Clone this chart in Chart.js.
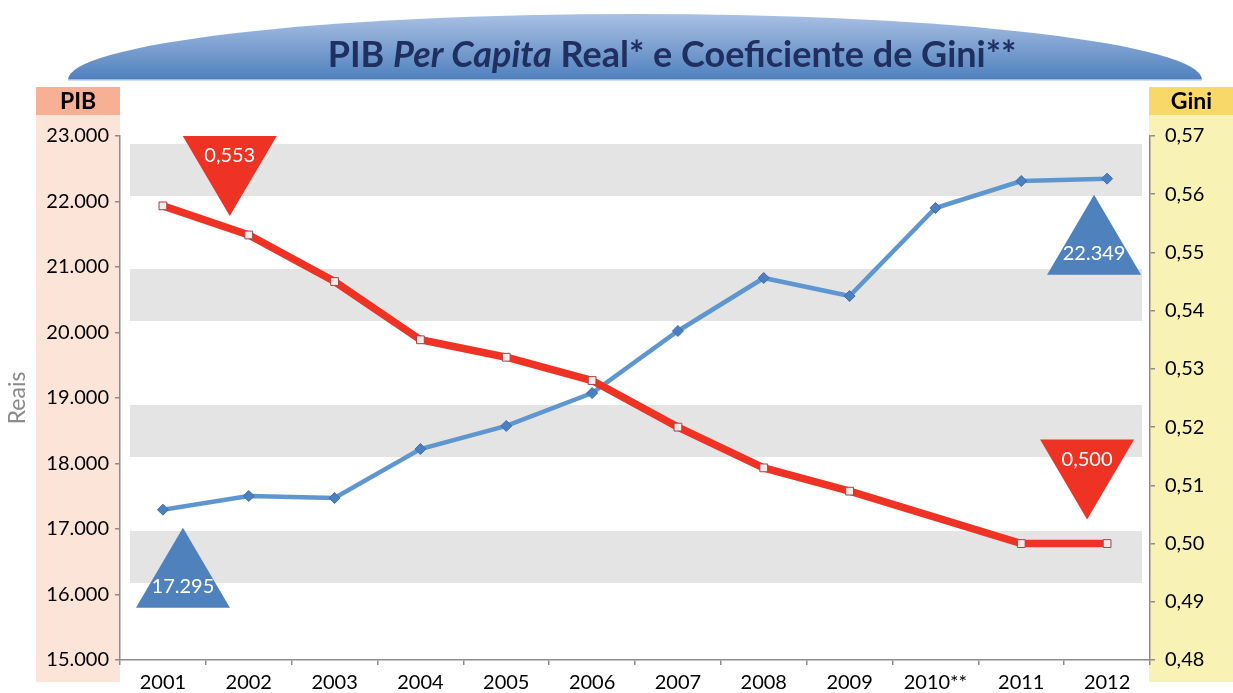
<!DOCTYPE html>
<html>
<head>
<meta charset="utf-8">
<script src="https://cdn.jsdelivr.net/npm/chart.js@4/dist/chart.umd.min.js"></script>
<style>
  html, body { margin: 0; padding: 0; background: #fff; }
  #wrap { width: 1233px; height: 693px; position: relative; }
</style>
</head>
<body>
<div id="wrap"><canvas id="grafico"></canvas></div>
<script>
const anos = ['2001', '2002', '2003', '2004', '2005', '2006', '2007', '2008', '2009', '2010**', '2011', '2012'];
const pib = [17295, 17504, 17473, 18221, 18573, 19076, 20023, 20832, 20557, 21901, 22313, 22349];
const gini = [0.558, 0.553, 0.545, 0.535, 0.532, 0.528, 0.520, 0.513, 0.509, null, 0.500, 0.500];
const pibTicks = ['15.000', '16.000', '17.000', '18.000', '19.000', '20.000', '21.000', '22.000', '23.000'];
const giniTicks = ['0,48', '0,49', '0,50', '0,51', '0,52', '0,53', '0,54', '0,55', '0,56', '0,57'];

const FONTE = 'Lato, "Open Sans", sans-serif';

// fundo: colunas dos eixos, faixas cinza e titulo
const fundo = {
    id: 'fundo',
    beforeDraw(chart) {
        const ctx = chart.ctx;
        const a = chart.chartArea;
        const y = chart.scales.y;
        ctx.save();
        // coluna PIB
        ctx.fillStyle = '#fce5d8';
        ctx.fillRect(36, 115, a.left - 36, 682 - 115);
        ctx.fillStyle = '#f8b094';
        ctx.fillRect(36, 87, a.left - 36, 28);
        // coluna Gini
        ctx.fillStyle = '#f8f2b5';
        ctx.fillRect(a.right - 1, 115, chart.width - a.right + 1, 682 - 115);
        ctx.fillStyle = '#f9d86a';
        ctx.fillRect(a.right - 1, 87, chart.width - a.right + 1, 28);

        ctx.fillStyle = '#000';
        ctx.font = 'bold 23px ' + FONTE;
        ctx.textAlign = 'center';
        ctx.textBaseline = 'middle';
        ctx.fillText('PIB', (36 + a.left) / 2, 102);
        ctx.fillText('Gini', (a.right + chart.width) / 2, 102);

        // faixas cinza
        ctx.fillStyle = '#e4e4e4';
        [[22084, 22878], [20176, 20969], [18099, 18893], [16176, 16969]].forEach(f => {
            const y1 = y.getPixelForValue(f[1]);
            const y0 = y.getPixelForValue(f[0]);
            ctx.fillRect(a.left + 10, y1, a.right - a.left - 18, y0 - y1);
        });

        // titulo
        const cx = 635, by = 80;
        const g = ctx.createLinearGradient(0, 14, 0, by);
        g.addColorStop(0, '#a9c0e4');
        g.addColorStop(1, '#4f80bd');
        ctx.fillStyle = g;
        ctx.beginPath();
        ctx.ellipse(cx, by, 567, 66, 0, Math.PI, 2 * Math.PI);
        ctx.closePath();
        ctx.fill();
        ctx.strokeStyle = '#bcd0ec';
        ctx.lineWidth = 1.5;
        ctx.beginPath();
        ctx.moveTo(cx - 567, by);
        ctx.lineTo(cx + 567, by);
        ctx.stroke();

        const partes = [['PIB ', 'bold'], ['Per Capita', 'bold italic'], [' Real* e Coeficiente de Gini**', 'bold']];
        ctx.textAlign = 'left';
        ctx.textBaseline = 'alphabetic';
        let total = 0;
        partes.forEach(p => { ctx.font = p[1] + ' 36px ' + FONTE; total += ctx.measureText(p[0]).width; });
        let x = 672 - total / 2;
        ctx.fillStyle = '#1f3060';
        partes.forEach(p => {
            ctx.font = p[1] + ' 36px ' + FONTE;
            ctx.fillText(p[0], x, 67);
            x += ctx.measureText(p[0]).width;
        });

        // rotulo Reais
        ctx.translate(18, 398);
        ctx.rotate(-Math.PI / 2);
        ctx.textAlign = 'center';
        ctx.textBaseline = 'middle';
        ctx.fillStyle = '#8a8a8a';
        ctx.font = '23px ' + FONTE;
        ctx.fillText('Reais', 0, 0);
        ctx.restore();
    }
};

// triangulos com valores
const destaques = {
    id: 'destaques',
    afterDatasetsDraw(chart) {
        const ctx = chart.ctx;
        const itens = [
            { ds: 0, i: 1, cor: '#ee3224', baixo: true, dx: -19, dy: -19, txt: '0,553' },
            { ds: 0, i: 11, cor: '#ee3224', baixo: true, dx: -20, dy: -24, txt: '0,500' },
            { ds: 1, i: 0, cor: '#4f81bd', baixo: false, dx: 20, dy: 18, txt: '17.295' },
            { ds: 1, i: 11, cor: '#4f81bd', baixo: false, dx: -13, dy: 16, txt: '22.349' }
        ];
        ctx.save();
        itens.forEach(t => {
            const p = chart.getDatasetMeta(t.ds).data[t.i];
            const ax = p.x + t.dx, ay = p.y + t.dy;
            const h = t.baixo ? -80 : 80;
            ctx.fillStyle = t.cor;
            ctx.beginPath();
            ctx.moveTo(ax, ay);
            ctx.lineTo(ax - 47, ay + h);
            ctx.lineTo(ax + 47, ay + h);
            ctx.closePath();
            ctx.fill();
            ctx.fillStyle = '#fff';
            ctx.font = '20px ' + FONTE;
            ctx.textAlign = 'center';
            ctx.textBaseline = 'middle';
            ctx.fillText(t.txt, ax, t.baixo ? ay + h + 20 : ay + h - 21);
        });
        ctx.restore();
    }
};

const ctx = document.getElementById('grafico');

new Chart(ctx, {
    type: 'line',
    data: {
        labels: anos,
        datasets: [{
            label: 'Gini',
            data: gini,
            yAxisID: 'y1',
            borderColor: '#ee3224',
            borderWidth: 7.5,
            tension: 0,
            spanGaps: true,
            pointStyle: 'rect',
            pointRadius: 5.5,
            pointBackgroundColor: '#fbe9e9',
            pointBorderColor: '#a04545',
            pointBorderWidth: 1,
            order: 0
        }, {
            label: 'PIB',
            data: pib,
            yAxisID: 'y',
            borderColor: '#5e97cf',
            borderWidth: 4.5,
            tension: 0,
            pointStyle: 'rectRot',
            pointRadius: 5.5,
            pointBackgroundColor: '#4a7fc0',
            pointBorderColor: '#3f6fae',
            pointBorderWidth: 1,
            order: 1
        }]
    },
    options: {
        responsive: true,
        maintainAspectRatio: false,
        animation: false,
        layout: { padding: { top: 136, left: 0, right: 0, bottom: 0 } },
        plugins: {
            legend: { display: false },
            tooltip: { enabled: false }
        },
        scales: {
            x: {
                offset: true,
                grid: { offset: true, drawOnChartArea: false, drawTicks: true, tickLength: 5, color: '#8c8c8c', lineWidth: 1.5 },
                border: { color: '#8c8c8c', width: 1.5 },
                ticks: { color: '#000', font: { family: FONTE, size: 20 }, padding: 6, maxRotation: 0, autoSkip: false },
                afterFit(s) { s.height = 33; }
            },
            y: {
                position: 'left',
                min: 15000,
                max: 23000,
                ticks: {
                    stepSize: 1000,
                    color: '#000',
                    font: { family: FONTE, size: 20 },
                    padding: 6,
                    callback: (v, i) => pibTicks[i]
                },
                grid: { drawOnChartArea: false, tickLength: 5, color: '#8c8c8c', lineWidth: 1.5 },
                border: { color: '#8c8c8c', width: 1.5 },
                afterFit(s) { s.width = 120; }
            },
            y1: {
                position: 'right',
                min: 0.48,
                max: 0.57,
                ticks: {
                    stepSize: 0.01,
                    color: '#000',
                    font: { family: FONTE, size: 20 },
                    padding: 10,
                    callback: (v, i) => giniTicks[i]
                },
                grid: { drawOnChartArea: false, tickLength: 5, color: '#8c8c8c', lineWidth: 1.5 },
                border: { color: '#8c8c8c', width: 1.5 },
                afterFit(s) { s.width = 83; }
            }
        }
    },
    plugins: [fundo, destaques]
});
</script>
</body>
</html>
